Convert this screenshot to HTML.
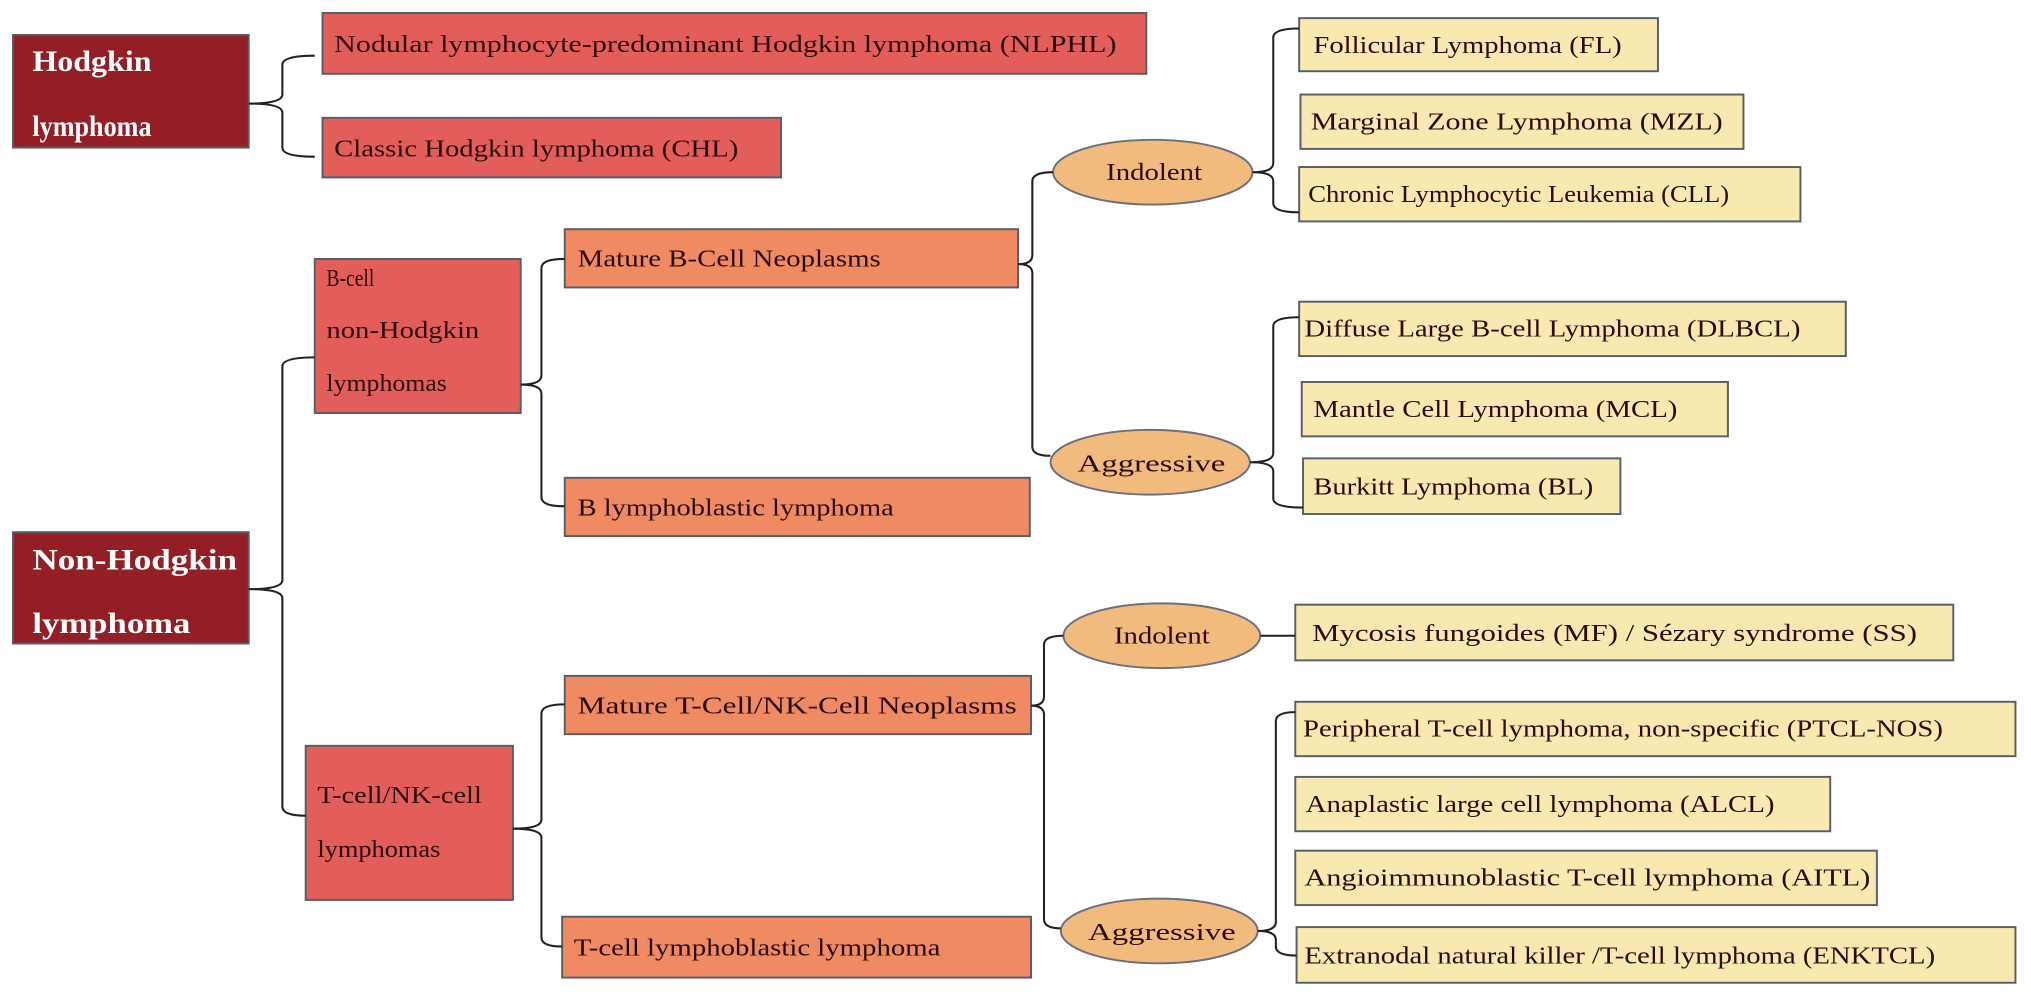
<!DOCTYPE html>
<html><head><meta charset="utf-8"><style>html,body{margin:0;padding:0;background:#fff}svg{display:block}</style></head>
<body>
<svg width="2031" height="997" viewBox="0 0 1568 770" preserveAspectRatio="none" xmlns="http://www.w3.org/2000/svg" font-family="Liberation Serif, serif">
<g stroke="#585e66" stroke-width="1.5">
<rect x="10" y="27" width="182" height="87" fill="#931e25"/>
<rect x="10" y="411" width="182" height="86" fill="#931e25"/>
<rect x="249" y="10" width="636" height="47" fill="#e35d5a"/>
<rect x="249" y="91" width="354" height="46" fill="#e35d5a"/>
<rect x="243" y="200" width="159" height="119" fill="#e35d5a"/>
<rect x="236" y="576" width="160" height="119" fill="#e35d5a"/>
<rect x="436" y="177" width="350" height="45" fill="#ef8a62"/>
<rect x="436" y="369" width="359" height="45" fill="#ef8a62"/>
<rect x="436" y="522" width="360" height="45" fill="#ef8a62"/>
<rect x="434" y="708" width="362" height="47" fill="#ef8a62"/>
<g fill="#f0bb7c" stroke="#6b6f80">
<ellipse cx="890" cy="133" rx="77" ry="25"/>
<ellipse cx="888" cy="357" rx="77" ry="25"/>
<ellipse cx="897" cy="491" rx="76" ry="25"/>
<ellipse cx="895" cy="719" rx="76" ry="25"/>
</g>
<g fill="#f7e9b0">
<rect x="1003" y="14" width="277" height="41"/>
<rect x="1004" y="73" width="342" height="42"/>
<rect x="1003" y="129" width="387" height="42"/>
<rect x="1003" y="233" width="422" height="42"/>
<rect x="1005" y="295" width="329" height="42"/>
<rect x="1006" y="354" width="245" height="43"/>
<rect x="1000" y="467" width="508" height="43"/>
<rect x="1000" y="542" width="556" height="42"/>
<rect x="1000" y="600" width="413" height="42"/>
<rect x="1000" y="657" width="449" height="42"/>
<rect x="1001" y="716" width="555" height="43"/>
</g>
</g>
<g fill="none" stroke="#222" stroke-width="1.6">
<path d="M243 43 Q218 43 218 50 L218 73 Q218 80 192 80 Q218 80 218 87 L218 114 Q218 121 243 121"/>
<path d="M243 276 Q218 276 218 283 L218 448 Q218 455 192 455 Q218 455 218 462 L218 623 Q218 630 236 630"/>
<path d="M436 200 Q418 200 418 207 L418 290 Q418 297 402 297 Q418 297 418 304 L418 384 Q418 391 436 391"/>
<path d="M436 544 Q418 544 418 551 L418 633 Q418 640 396 640 Q418 640 418 647 L418 724 Q418 731 434 731"/>
<path d="M813 133 Q797 133 797 140 L797 197 Q797 204 786 204 Q797 204 797 211 L797 345 Q797 352 811 352"/>
<path d="M821 491 Q806 491 806 498 L806 538 Q806 545 796 545 Q806 545 806 552 L806 710 Q806 717 819 717"/>
<path d="M1003 22 Q983 22 983 29 L983 126 Q983 133 967 133 Q983 133 983 140 L983 157 Q983 164 1003 164"/>
<path d="M1003 245 Q983 245 983 252 L983 350 Q983 357 965 357 Q983 357 983 364 L983 385 Q983 392 1006 392"/>
<path d="M973 491 L1000 491"/>
<path d="M1000 550 Q985 550 985 557 L985 712 Q985 719 971 719 Q985 719 985 726 L985 731 Q985 738 1001 738"/>
</g>
<g fill="#fff" font-weight="bold" font-size="23">
<text x="25" y="55" textLength="92" lengthAdjust="spacingAndGlyphs">Hodgkin</text>
<text x="25" y="105" textLength="92" lengthAdjust="spacingAndGlyphs">lymphoma</text>
<text x="25" y="440" textLength="158" lengthAdjust="spacingAndGlyphs">Non-Hodgkin</text>
<text x="25" y="489" textLength="122" lengthAdjust="spacingAndGlyphs">lymphoma</text>
</g>
<g fill="#2a0c0c" font-size="19" lengthAdjust="spacingAndGlyphs">
<text x="258" y="40" textLength="604" lengthAdjust="spacingAndGlyphs">Nodular lymphocyte-predominant Hodgkin lymphoma (NLPHL)</text>
<text x="258" y="121" textLength="312" lengthAdjust="spacingAndGlyphs">Classic Hodgkin lymphoma (CHL)</text>
<text x="252" y="221" textLength="37" lengthAdjust="spacingAndGlyphs">B-cell</text>
<text x="252" y="261" textLength="118" lengthAdjust="spacingAndGlyphs">non-Hodgkin</text>
<text x="252" y="302" textLength="93" lengthAdjust="spacingAndGlyphs">lymphomas</text>
<text x="245" y="620" textLength="127" lengthAdjust="spacingAndGlyphs">T-cell/NK-cell</text>
<text x="245" y="662" textLength="95" lengthAdjust="spacingAndGlyphs">lymphomas</text>
<text x="446" y="206" textLength="234" lengthAdjust="spacingAndGlyphs">Mature B-Cell Neoplasms</text>
<text x="446" y="398" textLength="244" lengthAdjust="spacingAndGlyphs">B lymphoblastic lymphoma</text>
<text x="446" y="551" textLength="339" lengthAdjust="spacingAndGlyphs">Mature T-Cell/NK-Cell Neoplasms</text>
<text x="443" y="738" textLength="283" lengthAdjust="spacingAndGlyphs">T-cell lymphoblastic lymphoma</text>
<text x="854" y="139" textLength="74" lengthAdjust="spacingAndGlyphs">Indolent</text>
<text x="832" y="364" textLength="114" lengthAdjust="spacingAndGlyphs">Aggressive</text>
<text x="860" y="497" textLength="74" lengthAdjust="spacingAndGlyphs">Indolent</text>
<text x="840" y="726" textLength="114" lengthAdjust="spacingAndGlyphs">Aggressive</text>
<text x="1014" y="41" textLength="238" lengthAdjust="spacingAndGlyphs">Follicular Lymphoma (FL)</text>
<text x="1012" y="100" textLength="318" lengthAdjust="spacingAndGlyphs">Marginal Zone Lymphoma (MZL)</text>
<text x="1010" y="156" textLength="325" lengthAdjust="spacingAndGlyphs">Chronic Lymphocytic Leukemia (CLL)</text>
<text x="1007" y="260" textLength="383" lengthAdjust="spacingAndGlyphs">Diffuse Large B-cell Lymphoma (DLBCL)</text>
<text x="1014" y="322" textLength="281" lengthAdjust="spacingAndGlyphs">Mantle Cell Lymphoma (MCL)</text>
<text x="1014" y="382" textLength="216" lengthAdjust="spacingAndGlyphs">Burkitt Lymphoma (BL)</text>
<text x="1013" y="495" textLength="467" lengthAdjust="spacingAndGlyphs">Mycosis fungoides (MF) / Sézary syndrome (SS)</text>
<text x="1006" y="569" textLength="494" lengthAdjust="spacingAndGlyphs">Peripheral T-cell lymphoma, non-specific (PTCL-NOS)</text>
<text x="1008" y="627" textLength="362" lengthAdjust="spacingAndGlyphs">Anaplastic large cell lymphoma (ALCL)</text>
<text x="1007" y="684" textLength="437" lengthAdjust="spacingAndGlyphs">Angioimmunoblastic T-cell lymphoma (AITL)</text>
<text x="1007" y="744" textLength="487" lengthAdjust="spacingAndGlyphs">Extranodal natural killer /T-cell lymphoma (ENKTCL)</text>
</g>
</svg>
</body></html>
